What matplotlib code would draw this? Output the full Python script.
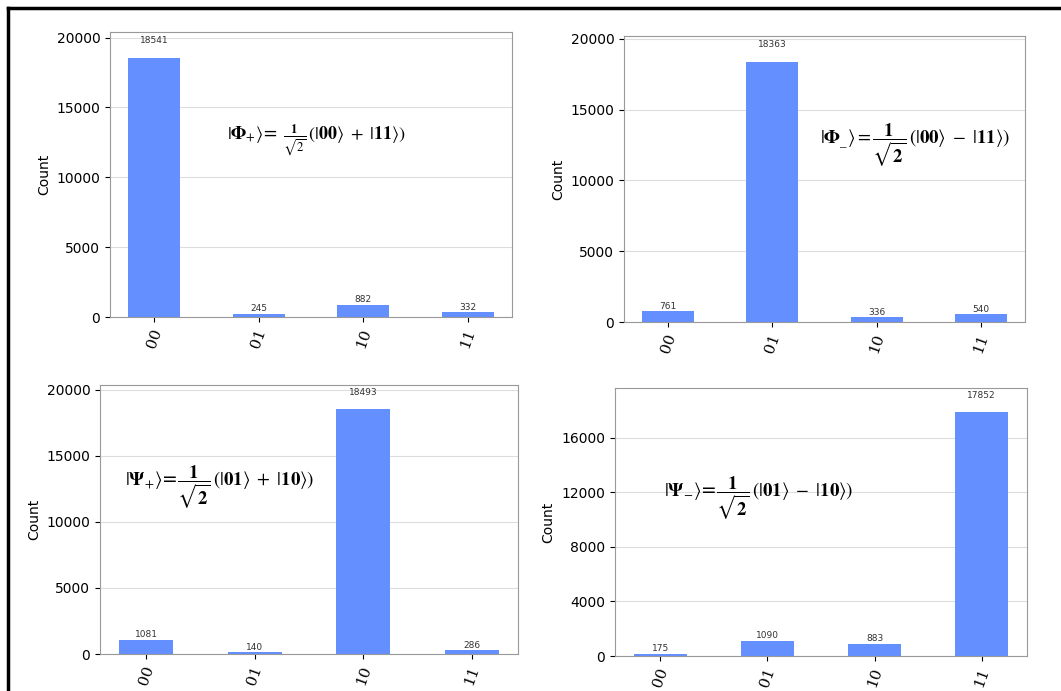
import matplotlib
matplotlib.use("Agg")
import matplotlib.pyplot as plt
from matplotlib.lines import Line2D

plt.rcParams["mathtext.fontset"] = "stix"

# ========================
# Dados
# ========================
states = ["00", "01", "10", "11"]
counts_phi_plus = [18541, 245, 882, 332]
counts_phi_minus = [761, 18363, 336, 540]
counts_psi_plus = [1081, 140, 18493, 286]
counts_psi_minus = [175, 1090, 883, 17852]

label_phi_plus = r"$|\boldsymbol{\Phi}_{+}\rangle$= $\frac{\mathbf{1}}{\sqrt{2}}\,(|\mathbf{00}\rangle\ +\ |\mathbf{11}\rangle)$"
label_phi_minus = r"$|\boldsymbol{\Phi}_{\_}\rangle = \dfrac{\mathbf{1}}{\sqrt{\mathbf{2}}}\,(|\mathbf{00}\rangle\ -\ |\mathbf{11}\rangle)$"
label_psi_plus = r"$|\boldsymbol{\Psi}_{+}\rangle$=$\dfrac{\mathbf{1}}{\sqrt{\mathbf{2}}}\,(|\mathbf{01}\rangle\ +\ |\mathbf{10}\rangle)$"
label_psi_minus = r"$|\boldsymbol{\Psi}_{-}\rangle$=$\dfrac{\mathbf{1}}{\sqrt{\mathbf{2}}}\,(|\mathbf{01}\rangle\ -\ |\mathbf{10}\rangle)$"

bar_color = "#648fff"

fig = plt.figure(figsize=(10.61, 6.91), dpi=100)
W, H = 1061, 691


def make_ax(x0, x1, y0, y1):
    # posição em pixels -> fração da figura
    return fig.add_axes([x0 / W, 1 - y1 / H, (x1 - x0) / W, (y1 - y0) / H])


def histogram(ax, values, yticks, label, lx, ly, fs):
    x = list(range(len(states)))
    bars = ax.bar(x, values, width=0.5, color=bar_color, zorder=2)
    for b, v in zip(bars, values):
        ax.text(b.get_x() + b.get_width() / 2, 1.05 * v, str(v),
                ha="center", va="bottom", fontsize=6.5, color="#333333")
    ax.set_ylim(0, max(values) * 1.1)
    ax.set_yticks(yticks)
    ax.set_xticks(x)
    ax.set_xticklabels(states, rotation=70, fontsize=11, family="DejaVu Serif")
    ax.tick_params(axis="y", labelsize=10)
    ax.set_ylabel("Count", fontsize=10)
    ax.grid(axis="y", color="#dddddd", linewidth=0.8, zorder=0)
    ax.set_axisbelow(True)
    for s in ax.spines.values():
        s.set_color("#999999")
    ax.text(lx, ly, label, transform=ax.transAxes, fontsize=fs, va="center")


ax1 = make_ax(110, 512, 32, 317)
histogram(ax1, counts_phi_plus, [0, 5000, 10000, 15000, 20000], label_phi_plus, 0.29, 0.62, 13)

ax2 = make_ax(624, 1025, 36, 322)
histogram(ax2, counts_phi_minus, [0, 5000, 10000, 15000, 20000], label_phi_minus, 0.49, 0.62, 13.5)

ax3 = make_ax(100, 518, 385, 654)
histogram(ax3, counts_psi_plus, [0, 5000, 10000, 15000, 20000], label_psi_plus, 0.06, 0.62, 13.5)

ax4 = make_ax(615, 1027, 388, 656)
histogram(ax4, counts_psi_minus, [0, 4000, 8000, 12000, 16000], label_psi_minus, 0.12, 0.59, 13.5)

# moldura preta (topo e esquerda)
fig.add_artist(Line2D([8 / W, 1], [1 - 8 / H, 1 - 8 / H], transform=fig.transFigure, color="black", linewidth=2.5))
fig.add_artist(Line2D([8 / W, 8 / W], [0, 1 - 8 / H], transform=fig.transFigure, color="black", linewidth=2.5))

fig.savefig("out.png", dpi=100)
